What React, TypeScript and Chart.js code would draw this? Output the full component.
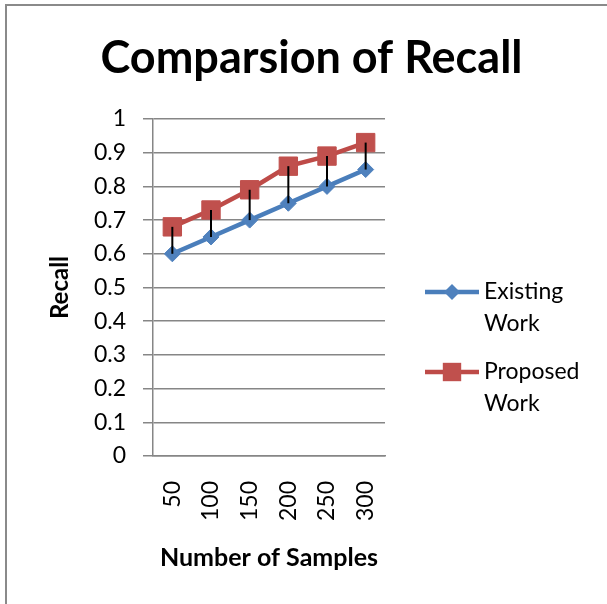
import React, { useEffect, useRef } from "react";
import { Chart, registerables } from "chart.js";

Chart.register(...registerables);

const categories = ["50", "100", "150", "200", "250", "300"];
const existingWork = [0.6, 0.65, 0.7, 0.75, 0.8, 0.85];
const proposedWork = [0.68, 0.73, 0.79, 0.86, 0.89, 0.93];
const seriesLabels = ["Existing Work", "Proposed Work"];
const chartTitle = "Comparsion of Recall";
const xAxisTitle = "Number of Samples";
const yAxisTitle = "Recall";

const FONT = "Lato, 'Open Sans', sans-serif";
const GRID = "#868686";

const dropLinesPlugin = {
  id: "dropLines",
  afterDatasetsDraw(chart: any) {
    const a = chart.getDatasetMeta(0).data;
    const b = chart.getDatasetMeta(1).data;
    const ctx = chart.ctx;
    ctx.save();
    ctx.strokeStyle = "#000";
    ctx.lineWidth = 2;
    for (let i = 0; i < a.length; i++) {
      ctx.beginPath();
      ctx.moveTo(a[i].x, b[i].y);
      ctx.lineTo(a[i].x, a[i].y);
      ctx.stroke();
    }
    ctx.restore();
  },
};

const legendPlugin = {
  id: "sideLegend",
  afterDraw(chart: any) {
    const { ctx, chartArea } = chart;
    const x0 = chartArea.right + 40;
    const lineLen = 54;
    ctx.save();
    chart.data.datasets.forEach((ds: any, i: number) => {
      const y = chartArea.top + 173 + i * 80;
      ctx.strokeStyle = ds.borderColor;
      ctx.lineWidth = ds.borderWidth;
      ctx.beginPath();
      ctx.moveTo(x0, y);
      ctx.lineTo(x0 + lineLen, y);
      ctx.stroke();
      const cx = x0 + lineLen / 2;
      const r = ds.pointRadius;
      ctx.fillStyle = ds.pointBackgroundColor;
      ctx.beginPath();
      if (ds.pointStyle === "rectRot") {
        ctx.moveTo(cx - r, y);
        ctx.lineTo(cx, y - r);
        ctx.lineTo(cx + r, y);
        ctx.lineTo(cx, y + r);
        ctx.closePath();
      } else {
        const s = r * Math.SQRT1_2;
        ctx.rect(cx - s, y - s, 2 * s, 2 * s);
      }
      ctx.fill();
      ctx.fillStyle = "#000";
      ctx.font = `23px ${FONT}`;
      ctx.textBaseline = "middle";
      ctx.textAlign = "left";
      const words = String(ds.label).split(" ");
      words.forEach((w: string, k: number) => {
        ctx.fillText(w, x0 + lineLen + 5, y + k * 31.5);
      });
    });
    ctx.restore();
  },
};

export default function App() {
  const ref = useRef<HTMLCanvasElement | null>(null);

  useEffect(() => {
    if (!ref.current) return;
    const chart = new Chart(ref.current, {
      type: "line",
      data: {
        labels: categories,
        datasets: [
          {
            label: seriesLabels[0],
            data: existingWork,
            borderColor: "#4A7EBB",
            backgroundColor: "#4F81BD",
            borderWidth: 4.5,
            pointStyle: "rectRot",
            pointRadius: 8,
            pointHoverRadius: 8,
            pointBackgroundColor: "#4F81BD",
            pointBorderColor: "#4F81BD",
            pointBorderWidth: 1,
            tension: 0,
          },
          {
            label: seriesLabels[1],
            data: proposedWork,
            borderColor: "#BE4B48",
            backgroundColor: "#C0504D",
            borderWidth: 4.5,
            pointStyle: "rect",
            pointRadius: 13,
            pointHoverRadius: 13,
            pointBackgroundColor: "#C0504D",
            pointBorderColor: "#C0504D",
            pointBorderWidth: 1,
            tension: 0,
          },
        ],
      },
      options: {
        responsive: false,
        animation: false,
        layout: { padding: { left: 16, right: 0, top: 0, bottom: 0 } },
        plugins: {
          legend: { display: false },
          tooltip: { enabled: false },
          title: {
            display: true,
            text: chartTitle,
            color: "#000",
            font: { family: FONT, size: 45, weight: "bold", lineHeight: 1.2 },
            padding: { top: 31, bottom: 34 },
          },
        },
        scales: {
          x: {
            offset: true,
            grid: { display: false, drawTicks: false },
            border: { display: true, color: GRID, width: 1.5 },
            ticks: {
              color: "#000",
              font: { family: FONT, size: 23 },
              minRotation: 90,
              maxRotation: 90,
              padding: 25,
              autoSkip: false,
            },
            title: {
              display: true,
              text: xAxisTitle,
              color: "#000",
              font: { family: FONT, size: 25, weight: "bold", lineHeight: 1.2 },
              padding: { top: 0, bottom: 31 },
            },
            afterFit: (s: any) => {
              s.height = 148;
            },
          },
          y: {
            min: 0,
            max: 1,
            ticks: {
              stepSize: 0.1,
              color: "#000",
              font: { family: FONT, size: 23 },
              padding: 17,
              callback: (v: any) => String(Math.round(Number(v) * 10) / 10),
            },
            grid: { color: GRID, lineWidth: 1.5, drawTicks: true, tickLength: 10 },
            border: { display: true, color: GRID, width: 1.5 },
            title: {
              display: true,
              text: yAxisTitle,
              color: "#000",
              font: { family: FONT, size: 24, weight: "bold", lineHeight: 1.2 },
              padding: { top: 30, bottom: 0 },
            },
            afterFit: (s: any) => {
              s.width = 137;
            },
          },
          legendSpace: {
            type: "linear",
            position: "right",
            display: true,
            grid: { display: false },
            border: { display: false },
            ticks: { display: false },
            afterFit: (s: any) => {
              s.width = 222;
            },
          },
        },
      } as any,
      plugins: [dropLinesPlugin, legendPlugin],
    });
    return () => chart.destroy();
  }, []);

  return (
    <div style={{ position: "absolute", left: 0, top: 0, width: 607, height: 604, background: "#fff" }}>
      <div
        style={{
          position: "absolute",
          left: 5,
          top: 4,
          right: 0,
          bottom: 0,
          borderLeft: "2px solid #8a8a8a",
          borderTop: "2px solid #8a8a8a",
        }}
      />
      <canvas
        ref={ref}
        width={607}
        height={604}
        style={{ position: "absolute", left: 0, top: 0, width: 607, height: 604, display: "block" }}
      />
    </div>
  );
}
